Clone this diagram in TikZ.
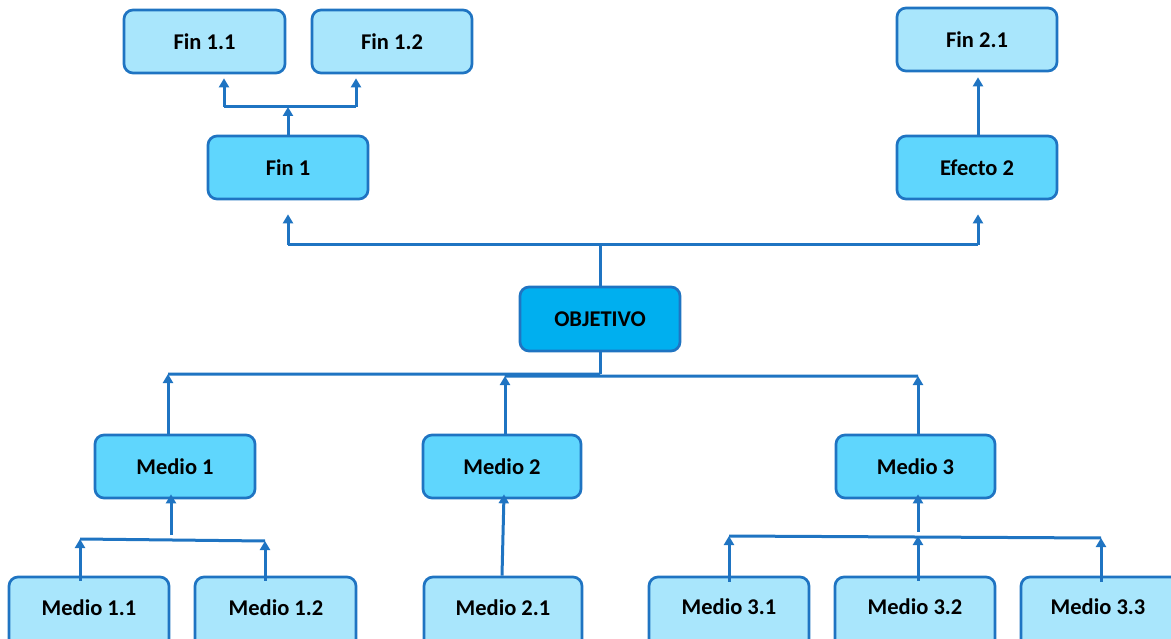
\documentclass[tikz,border=0pt]{standalone}
\usepackage{fontspec}
\setmainfont{Carlito}
\usetikzlibrary{arrows.meta}
\definecolor{lightbox}{HTML}{A9E6FC}
\definecolor{midbox}{HTML}{5FD6FD}
\definecolor{objbox}{HTML}{00AFEF}
\definecolor{edge}{HTML}{1F74C2}
\tikzset{
  txt/.style={font=\fontsize{22.5}{26}\selectfont\bfseries},
  base/.style={draw=edge, line width=2.7pt, rounded corners=9pt, align=center,
    txt, inner sep=0pt},
  lbox/.style={base, fill=lightbox},
  mbox/.style={base, fill=midbox},
  obox/.style={base, fill=objbox},
  conn/.style={draw=edge, line width=3pt},
  arr/.style={conn, -{Triangle[width=10pt,length=9pt]}},
}
\newcommand{\boxat}[7]{% style, name, x1, y1, x2, y2, text
  \node[#1, minimum width={(#5-#3)*1pt}, minimum height={(#6-#4)*1pt}]
    (#2) at ({(#3+#5)/2},{(#4+#6)/2}) {#7};}
\begin{document}
\begin{tikzpicture}[x=1pt,y=-1pt]
\useasboundingbox (0,0) rectangle (1171,639);
\clip (0,0) rectangle (1171,639);
% boxes
\boxat{lbox}{f11}{124}{10}{285}{73}{Fin 1.1}
\boxat{lbox}{f12}{312}{10}{472}{73}{Fin 1.2}
\boxat{mbox}{f1}{208}{136}{368}{199}{Fin 1}
\boxat{lbox}{f21}{897}{8}{1057}{71}{Fin 2.1}
\boxat{mbox}{e2}{897}{136}{1057}{199}{Efecto 2}
\boxat{obox}{obj}{520}{287}{680}{351}{OBJETIVO}
\boxat{mbox}{m1}{95}{435}{255}{498}{Medio 1}
\boxat{mbox}{m2}{423}{435}{581}{498}{Medio 2}
\boxat{mbox}{m3}{836}{435}{995}{498}{Medio 3}
\boxat{lbox}{m11}{9}{577}{169}{650}{}
\boxat{lbox}{m12}{195}{577}{356}{650}{}
\boxat{lbox}{m21}{424}{577}{582}{650}{}
\boxat{lbox}{m31}{649}{577}{809}{650}{}
\boxat{lbox}{m32}{835}{577}{995}{650}{}
\boxat{lbox}{m33}{1021}{577}{1190}{650}{}
\node[txt] (t11) at (89,608) {Medio 1.1};
\node[txt] (t12) at (276,608) {Medio 1.2};
\node[txt] (t21) at (503,608) {Medio 2.1};
\node[txt] (t31) at (729,607) {Medio 3.1};
\node[txt] (t32) at (915,607) {Medio 3.2};
\node[txt] (t33) at (1098,607) {Medio 3.3};
% coordinates
\coordinate (j1) at (288,107);
\coordinate (j1a) at (224,107);
\coordinate (j1b) at (356,107);
\coordinate (jt) at (600,245);
\coordinate (jtl) at (288,245);
\coordinate (jtr) at (978,245);
\coordinate (jb) at (600,374);
\coordinate (jbl) at (168,374);
\coordinate (jbm) at (505,376);
\coordinate (jbr) at (918,376);
\coordinate (g1l) at (80,539);
\coordinate (g1r) at (265,541);
\coordinate (g1m) at (171,535);
\coordinate (g3l) at (729,536);
\coordinate (g3r) at (1101,538);
\coordinate (g3m) at (918,532);
% top connectors
\draw[conn] (j1a) -- (j1b);
\draw[arr] (f1.north -| j1) -- (j1);
\draw[arr] (j1a) -- ([yshift=-4pt]j1a |- f11.south);
\draw[arr] (j1b) -- ([yshift=-4pt]j1b |- f12.south);
\draw[arr] (e2.north -| jtr) -- ([yshift=-5pt]jtr |- f21.south);
\draw[conn] (obj.north -| jt) -- (jt);
\draw[conn] (jtl) -- (jtr);
\draw[arr] (jtl) -- ([yshift=-14pt]jtl |- f1.south);
\draw[arr] (jtr) -- ([yshift=-14pt]jtr |- e2.south);
% middle
\draw[conn] (obj.south -| jb) -- (jb);
\draw[conn] (jbl) -- (jb) -- (jbm) -- (jbr);
\draw[arr] (m1.north -| jbl) -- (jbl);
\draw[arr] (m2.north -| jbm) -- (jbm);
\draw[arr] (m3.north -| jbr) -- (jbr);
% group 1
\draw[conn] (g1l) -- (g1r);
\draw[arr] ([yshift=-5pt]g1l |- m11.north) -- (g1l);
\draw[arr] ([yshift=-5pt]g1r |- m12.north) -- (g1r);
\draw[arr] (g1m) -- ([yshift=5pt]g1m |- m1.south);
% group 2
\draw[arr] (m21.north -| 502,0) -- ([yshift=5pt]m2.south -| 504,0);
% group 3
\draw[conn] (g3l) -- (g3r);
\draw[arr] ([yshift=-6pt]g3l |- m31.north) -- (g3l);
\draw[arr] ([yshift=-5pt]g3m |- m32.north) -- (g3m |- g3l);
\draw[arr] ([yshift=-6pt]g3r |- m33.north) -- (g3r);
\draw[arr] (g3m) -- ([yshift=5pt]g3m |- m3.south);
\end{tikzpicture}
\end{document}
